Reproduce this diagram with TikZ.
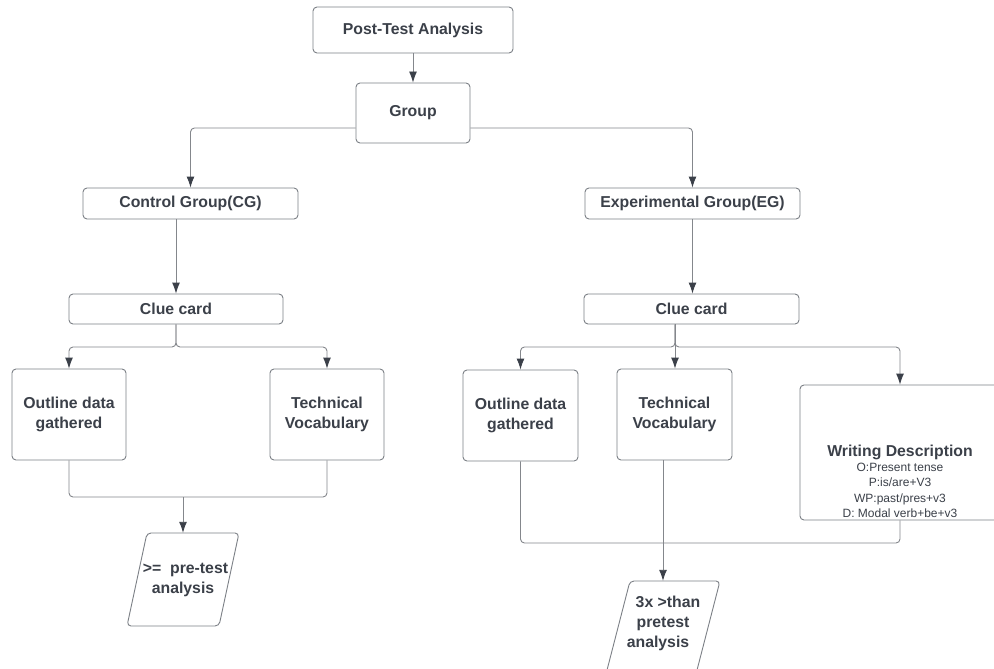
\documentclass[tikz,border=0pt]{standalone}
\usepackage{fontspec}
\setmainfont{Liberation Sans}
\usetikzlibrary{arrows.meta,calc}
\definecolor{txt}{HTML}{3B4049}
\definecolor{bord}{HTML}{7C8086}
\definecolor{lin}{HTML}{84878C}
\tikzset{
  box/.style={draw=bord, line width=0.9pt, rounded corners=4pt, fill=white,
    text=txt, font=\bfseries\fontsize{15.8}{20}\selectfont, align=center, inner sep=0pt},
  para/.style={text=txt, font=\bfseries\fontsize{15.8}{20}\selectfont, align=center, inner sep=0pt},
  shapeln/.style={draw=bord, line width=0.9pt, rounded corners=4pt},
  ln/.style={draw=lin, line width=0.9pt, rounded corners=4pt},
  conn/.style={ln, -{Latex[length=11pt,width=8pt,color=txt]}}
}
\begin{document}
\begin{tikzpicture}[x=1pt,y=-1pt]
\useasboundingbox (0,0) rectangle (994,669);
\fill[white] (0,0) rectangle (994,669);
\begin{scope}
\clip (0,0) rectangle (994,669);
% nodes
\node[box, minimum width=200, minimum height=46] (pta) at (413,30) {Post-Test Analysis};
\node[box, minimum width=114, minimum height=60] (grp) at (413,113) {Group};
\node[box, minimum width=215, minimum height=31] (cg) at (190.5,203.5) {Control Group(CG)};
\node[box, minimum width=215, minimum height=31] (eg) at (692.5,203.5) {Experimental Group(EG)};
\node[box, minimum width=214, minimum height=30] (cc1) at (176,309) {Clue card};
\node[box, minimum width=215, minimum height=30] (cc2) at (691.5,309) {Clue card};
\node[box, minimum width=114, minimum height=91] (od1) at (69,414.5) {Outline data\\gathered};
\node[box, minimum width=114, minimum height=91] (tv1) at (327,414.5) {Technical\\Vocabulary};
\node[box, minimum width=115, minimum height=91] (od2) at (520.5,415.5) {Outline data\\gathered};
\node[box, minimum width=115, minimum height=91] (tv2) at (674.5,414.5) {Technical\\Vocabulary};
\node[box, minimum width=200, minimum height=135] (wd) at (900,452.5) {};
\node[text=txt, align=center, inner sep=0pt, anchor=north,
  font=\fontsize{12}{15.3}\selectfont] (wdtext) at (900,444.5)
  {{\bfseries\fontsize{15.8}{15.3}\selectfont Writing Description}\\
   O:Present tense\\ P:is/are+V3\\ WP:past/pres+v3\\ D: Modal verb+be+v3};
% parallelograms
\draw[shapeln] (147,533) -- (239,533) -- (219,626) -- (127,626) -- cycle;
\node[para, minimum width=60, minimum height=93] (pa1) at (183,579.5)
  {\hspace*{5pt}>=\ \ pre-test\\analysis};
\draw[shapeln] (630,581) -- (720,581) -- (696,674) -- (606,674) -- cycle;
\node[para, minimum width=60, minimum height=84] (pa2) at (663,623)
  {\hspace*{10pt}3x >than\\pretest\\analysis\hspace*{10pt}};
% junction coordinates
\coordinate (j1) at (176,347);
\coordinate (j2) at (675,347);
\coordinate (b1) at (183,497);
\coordinate (b2) at (663,543);
% connectors
\draw[conn] (pta) -- (grp);
\draw[conn] ([yshift=-15pt]grp.west) -| (cg.north);
\draw[conn] ([yshift=-15pt]grp.east) -| (eg.north);
\draw[conn] (cc1.north |- cg.south) -- (cc1.north);
\draw[conn] (eg.south) -- (eg.south |- cc2.north);
\draw[conn] (cc1.south) -- (j1) -| (od1.north);
\draw[conn] (cc1.south) -- (j1) -| (tv1.north);
\draw[conn] (j2 |- cc2.south) -- (j2) -| (od2.north);
\draw[conn] (j2 |- cc2.south) -- (j2) -| (wd.north);
\draw[conn] (j2 |- cc2.south) -- (j2 |- tv2.north);
\draw[ln] (od1.south) |- (b1) -| (tv1.south);
\draw[conn] (b1) -- (pa1.north);
\draw[ln] (od2.south) |- (b2) -| (wd.south);
\draw[conn] (pa2.north |- tv2.south) -- (pa2.north);
\end{scope}
\end{tikzpicture}
\end{document}
